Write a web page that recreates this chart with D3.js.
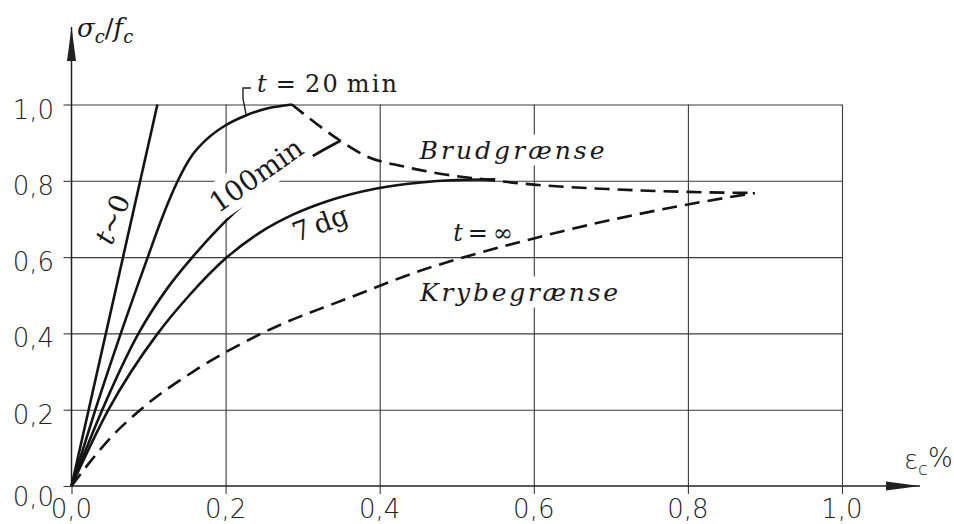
<!DOCTYPE html>
<html lang="da">
<head>
    <meta charset="UTF-8">
    <title>Krybning</title>
    <script src="https://d3js.org/d3.v7.min.js"></script>
    <style>
        body {margin: 0; background: #fff;}
        .grid line {stroke: #3a3a3a; stroke-width: 1.1px;}
        .grid path {display: none;}
        .curve {fill: none; stroke: #141414; stroke-width: 2.6px; stroke-linejoin: round;}
        .dashed {stroke-dasharray: 15 8;}
        .tick-label {font-family: "DejaVu Sans", sans-serif; font-weight: 200; font-size: 26px; fill: #222;}
        .note {font-family: "DejaVu Serif", serif; font-weight: 300; fill: #1a1a1a;}
    </style>
</head>
<body>
<script>
    const width  = 954;
    const height = 524;

    // tick values (begge akser 0..1,0)
    const xTicks = [0, 0.2, 0.4, 0.6, 0.8, 1.0];
    const yTicks = [0, 0.2, 0.4, 0.6, 0.8, 1.0];

    // arbejdslinjer, [eps_c %, sigma_c/f_c]
    const tZero = [[0, 0], [0.1115, 1.0]];
    const t20min = [[0, 0], [0.031, 0.2], [0.064, 0.4], [0.099, 0.6], [0.117, 0.7], [0.138, 0.8],
                    [0.157, 0.868], [0.175, 0.908], [0.198, 0.943], [0.227, 0.972], [0.255, 0.99], [0.286, 1.0]];
    const t100min = [[0, 0], [0.040, 0.2], [0.087, 0.4], [0.125, 0.52], [0.157, 0.6], [0.193, 0.68],
                     [0.227, 0.745], [0.279, 0.822], [0.314, 0.866], [0.349, 0.905]];
    const t7dg = [[0, 0], [0.048, 0.2], [0.112, 0.4], [0.153, 0.5], [0.202, 0.6], [0.245, 0.665],
                  [0.288, 0.712], [0.331, 0.746], [0.396, 0.78], [0.45, 0.795], [0.5, 0.802], [0.55, 0.804]];
    const brud = [[0.286, 1.0], [0.349, 0.905], [0.383, 0.864], [0.43, 0.838], [0.48, 0.818],
                  [0.53, 0.805], [0.6, 0.79], [0.7, 0.778], [0.8, 0.771], [0.887, 0.768]];
    const kryb = [[0, 0], [0.022, 0.058], [0.05, 0.125], [0.0895, 0.2], [0.158, 0.3], [0.247, 0.4],
                  [0.374, 0.504], [0.43, 0.548], [0.6, 0.649], [0.8, 0.738], [0.887, 0.768]];

    const x = d3.scaleLinear().domain([0, 1]).range([71.5, 842]);
    const y = d3.scaleLinear().domain([0, 1]).range([486, 104.5]);

    const dk = d3.formatLocale({decimal: ",", thousands: ".", grouping: [3], currency: ["", " kr"]});
    const fmt = dk.format(".1f");

    const svg = d3.select("body").append("svg").attr("width", width).attr("height", height);

    // gitter
    svg.append("g").attr("class", "grid")
        .attr("transform", "translate(0," + y(0) + ")")
        .call(d3.axisBottom(x).tickValues(xTicks.slice(1)).tickSizeInner(-(y(0) - y(1))).tickSizeOuter(0).tickFormat(""));
    svg.append("g").attr("class", "grid")
        .attr("transform", "translate(" + x(0) + ",0)")
        .call(d3.axisLeft(y).tickValues(yTicks.slice(1)).tickSizeInner(-(x(1) - x(0))).tickSizeOuter(0).tickFormat(""));
    // små tick-streger udenfor
    svg.append("g").attr("class", "grid")
        .attr("transform", "translate(0," + y(0) + ")")
        .call(d3.axisBottom(x).tickValues(xTicks).tickSizeInner(8).tickSizeOuter(0).tickFormat(""));
    svg.append("g").attr("class", "grid")
        .attr("transform", "translate(" + x(0) + ",0)")
        .call(d3.axisLeft(y).tickValues(yTicks).tickSizeInner(8).tickSizeOuter(0).tickFormat(""));

    // akser med pile
    const defs = svg.append("defs");
    defs.append("marker").attr("id", "arrow").attr("viewBox", "0 0 34 10")
        .attr("refX", 34).attr("refY", 5).attr("markerWidth", 34).attr("markerHeight", 10)
        .attr("markerUnits", "userSpaceOnUse").attr("orient", "auto")
        .append("path").attr("d", "M0,0.5 L34,5 L0,9.5 Z").attr("fill", "#222");

    svg.append("line").attr("x1", x(0)).attr("y1", y(0)).attr("x2", 920).attr("y2", y(0))
        .attr("stroke", "#222").attr("stroke-width", 1.5).attr("marker-end", "url(#arrow)");
    svg.append("line").attr("x1", x(0)).attr("y1", y(0)).attr("x2", x(0)).attr("y2", 27)
        .attr("stroke", "#222").attr("stroke-width", 1.5).attr("marker-end", "url(#arrow)");

    // tick-tekster
    svg.append("g").selectAll("text").data(xTicks).join("text")
        .attr("class", "tick-label")
        .attr("x", d => x(d)).attr("y", 518)
        .attr("text-anchor", "middle")
        .text(d => fmt(d));
    svg.append("g").selectAll("text").data(yTicks).join("text")
        .attr("class", "tick-label")
        .attr("x", 54).attr("y", d => y(d) + (d === 0 ? 20 : 14))
        .attr("text-anchor", "end")
        .text(d => fmt(d));

    // etiketter med hvid baggrund (afbryder gitteret)
    function label(parts, px, py, angle, size, pad, len) {
        const g = svg.append("g").attr("transform", "translate(" + px + "," + py + ") rotate(" + angle + ")");
        const bg = g.append("rect").attr("fill", "#fff");
        const t = g.append("text").attr("class", "note").attr("font-size", size)
            .attr("text-anchor", "middle").attr("dominant-baseline", "central");
        if (len) t.attr("textLength", len).attr("lengthAdjust", "spacing");
        parts.forEach(p => t.append("tspan").attr("font-style", p[1] ? "italic" : "normal").text(p[0]));
        if (pad >= 0) {
            const b = t.node().getBBox();
            bg.attr("x", b.x - pad).attr("y", b.y - pad + 2).attr("width", b.width + 2 * pad).attr("height", b.height + 2 * pad - 4);
        } else bg.remove();
        return g;
    }

    const line = d3.line().x(d => x(d[0])).y(d => y(d[1])).curve(d3.curveMonotoneX);

    label([["Brudgrænse", true]], 512, 150, 0, 25, 3, 185);
    label([["Krybegrænse", true]], 519, 292, 0, 25, 3, 198);

    svg.append("path").attr("class", "curve").attr("d", line(tZero));
    svg.append("path").attr("class", "curve").attr("d", line(t20min));
    svg.append("path").attr("class", "curve").attr("d", line(t100min));
    svg.append("path").attr("class", "curve").attr("d", line(t7dg));
    svg.append("path").attr("class", "curve dashed").attr("d", line(brud));
    svg.append("path").attr("class", "curve dashed").attr("d", line(kryb));

    label([["t", true], ["~0", false]], 112, 219, -68, 27, -1);
    label([["100min", false]], 256, 175, -35, 28, 4);
    label([["7", false], ["\u2009dg", false]], 320, 223, -20, 27, -1);
    label([["t", true], ["\u2009=\u2009∞", false]], 483, 233, 0, 24, -1);
    label([["t", true], ["\u2009=\u200920\u2009min", false]], 327, 84, 0, 24, -1, 140);

    // leder fra "t = 20 min" til kurven
    svg.append("path")
        .attr("d", d3.line()([[251, 88], [243, 88], [243, 99], [246, 114]]))
        .attr("fill", "none").attr("stroke", "#222").attr("stroke-width", 1.4);

    // aksetitler
    const yt = svg.append("text").attr("class", "note").attr("x", 77).attr("y", 37).attr("font-size", 26);
    yt.append("tspan").attr("font-style", "italic").text("σ");
    yt.append("tspan").attr("font-style", "italic").attr("font-size", 18).attr("dy", 6).text("c");
    yt.append("tspan").attr("dy", -6).text("/");
    yt.append("tspan").attr("font-style", "italic").text("f");
    yt.append("tspan").attr("font-style", "italic").attr("font-size", 18).attr("dy", 6).text("c");

    const xt = svg.append("text").attr("class", "tick-label").attr("x", 904).attr("y", 469).attr("font-size", 25);
    xt.append("tspan").text("ε");
    xt.append("tspan").attr("font-size", 18).attr("dy", 6).text("c");
    xt.append("tspan").attr("dy", -8).text("%");
</script>
</body>
</html>
